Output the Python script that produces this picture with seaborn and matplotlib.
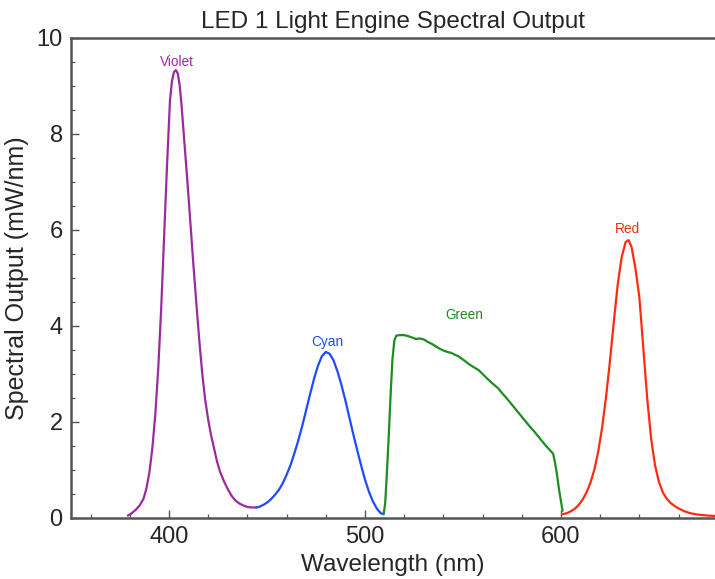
import numpy as np
import pandas as pd
import matplotlib
matplotlib.use("Agg")
import matplotlib.pyplot as plt
from matplotlib.ticker import MultipleLocator
import seaborn as sns

# ---- data ----
violet_wl = [379, 381, 383, 385, 387, 388.5, 390, 391.5, 393, 394.5, 396, 397.5, 399, 400.5, 401.5,
             402.5, 403.5, 404.5, 405.5, 406.5, 408, 409.5, 411, 412.5, 414, 415.5, 417, 418.5, 420,
             421.5, 423, 424.5, 426, 428, 430, 432, 434, 436, 438, 440, 442, 444.5]
violet_val = [0.05, 0.10, 0.17, 0.26, 0.40, 0.62, 0.95, 1.45, 2.15, 3.10, 4.35, 5.85, 7.35, 8.70, 9.10,
              9.29, 9.33, 9.26, 9.00, 8.55, 7.75, 6.95, 6.10, 5.25, 4.45, 3.68, 3.00, 2.45, 2.05,
              1.72, 1.45, 1.18, 0.97, 0.77, 0.60, 0.46, 0.36, 0.30, 0.26, 0.23, 0.22, 0.22]

cyan_wl = [444.5, 446, 448, 450, 452, 454, 456, 458, 460, 462, 464, 466, 468, 470, 472, 474, 476,
           478, 480, 482, 484, 486, 488, 490, 492, 494, 496, 498, 500, 502, 504, 506, 508, 509.5]
cyan_val = [0.22, 0.23, 0.27, 0.32, 0.39, 0.48, 0.58, 0.72, 0.90, 1.10, 1.35, 1.62, 1.92, 2.25, 2.58,
            2.90, 3.17, 3.37, 3.46, 3.42, 3.28, 3.05, 2.77, 2.45, 2.10, 1.75, 1.42, 1.10, 0.80, 0.55,
            0.35, 0.20, 0.10, 0.08]

green_wl = [509.5, 510.3, 511, 512, 513, 514, 515, 516, 518, 520, 522, 524, 526, 528, 530, 532, 534,
            536, 538, 540, 542, 544, 546, 548, 550, 552, 554, 556, 558, 560, 562, 564, 566, 568, 570,
            572, 574, 576, 578, 580, 582, 584, 586, 588, 590, 592, 594, 596, 597, 598, 599, 600, 600.8]
green_val = [0.08, 0.30, 0.80, 1.60, 2.50, 3.30, 3.70, 3.80, 3.81, 3.81, 3.79, 3.76, 3.73, 3.74, 3.72,
             3.67, 3.63, 3.58, 3.53, 3.49, 3.46, 3.44, 3.40, 3.36, 3.30, 3.24, 3.18, 3.13, 3.08, 3.00,
             2.92, 2.84, 2.77, 2.70, 2.60, 2.51, 2.41, 2.31, 2.21, 2.11, 2.01, 1.91, 1.82, 1.72, 1.62,
             1.52, 1.43, 1.34, 1.15, 0.90, 0.60, 0.35, 0.15]

red_wl = [600.8, 603, 605, 607, 609, 611, 613, 615, 617, 619, 621, 623, 625, 627, 629, 631, 633,
          634.5, 636, 638, 640, 642, 644, 646, 648, 650, 652, 654, 656, 658, 660, 663, 666, 670,
          675, 680]
red_val = [0.08, 0.10, 0.14, 0.19, 0.27, 0.38, 0.53, 0.73, 1.00, 1.38, 1.88, 2.52, 3.27, 4.10, 4.88,
           5.44, 5.75, 5.79, 5.65, 5.20, 4.60, 3.55, 2.50, 1.65, 1.10, 0.75, 0.53, 0.40, 0.31, 0.25,
           0.20, 0.14, 0.10, 0.07, 0.05, 0.04]

labels = ["Violet", "Cyan", "Green", "Red"]
label_x = [404.1, 480.6, 550.5, 633.7]
label_y = [9.5, 3.67, 4.23, 6.02]
colors = ["#9a2a9e", "#1f4bff", "#1f8c1f", "#ff2a12"]

series = [(violet_wl, violet_val), (cyan_wl, cyan_val), (green_wl, green_val), (red_wl, red_val)]

sns.set_style("ticks")
plt.rcParams["font.family"] = ["Liberation Sans", "DejaVu Sans"]

fig = plt.figure(figsize=(7.15, 5.79), dpi=100)
ax = fig.add_axes([71 / 715, 1 - 518 / 579, 1 - 71 / 715, (518 - 38) / 579])

for (wl, val), name, col in zip(series, labels, colors):
    df = pd.DataFrame({"Wavelength": wl, "Output": val})
    sns.lineplot(data=df, x="Wavelength", y="Output", color=col, linewidth=1.6, ax=ax,
                 sort=False, estimator=None)

for name, x, y, col in zip(labels, label_x, label_y, colors):
    ax.text(x, y, name, color=col, fontsize=9.8, ha="center", va="center")

ax.set_xlim(350, 678.6)
ax.set_ylim(0, 10)
ax.xaxis.set_major_locator(MultipleLocator(100))
ax.xaxis.set_minor_locator(MultipleLocator(20))
ax.yaxis.set_major_locator(MultipleLocator(2))
ax.yaxis.set_minor_locator(MultipleLocator(0.5))
ax.tick_params(which="major", direction="in", length=6, width=1.0, color="#555555",
               labelsize=17, pad=6, top=False, right=False)
ax.tick_params(which="minor", direction="in", length=3, width=0.9, color="#555555",
               top=False, right=False)

for side in ["left", "bottom", "top"]:
    ax.spines[side].set_visible(True)
    ax.spines[side].set_color("#555555")
    ax.spines[side].set_linewidth(1.8)
ax.spines["right"].set_visible(False)

ax.set_xlabel("Wavelength (nm)", fontsize=17.5, labelpad=4)
ax.set_ylabel("Spectral Output (mW/nm)", fontsize=18, labelpad=5)
ax.set_title("LED 1 Light Engine Spectral Output", fontsize=17.5, pad=7)

fig.savefig("out.png", dpi=100)
